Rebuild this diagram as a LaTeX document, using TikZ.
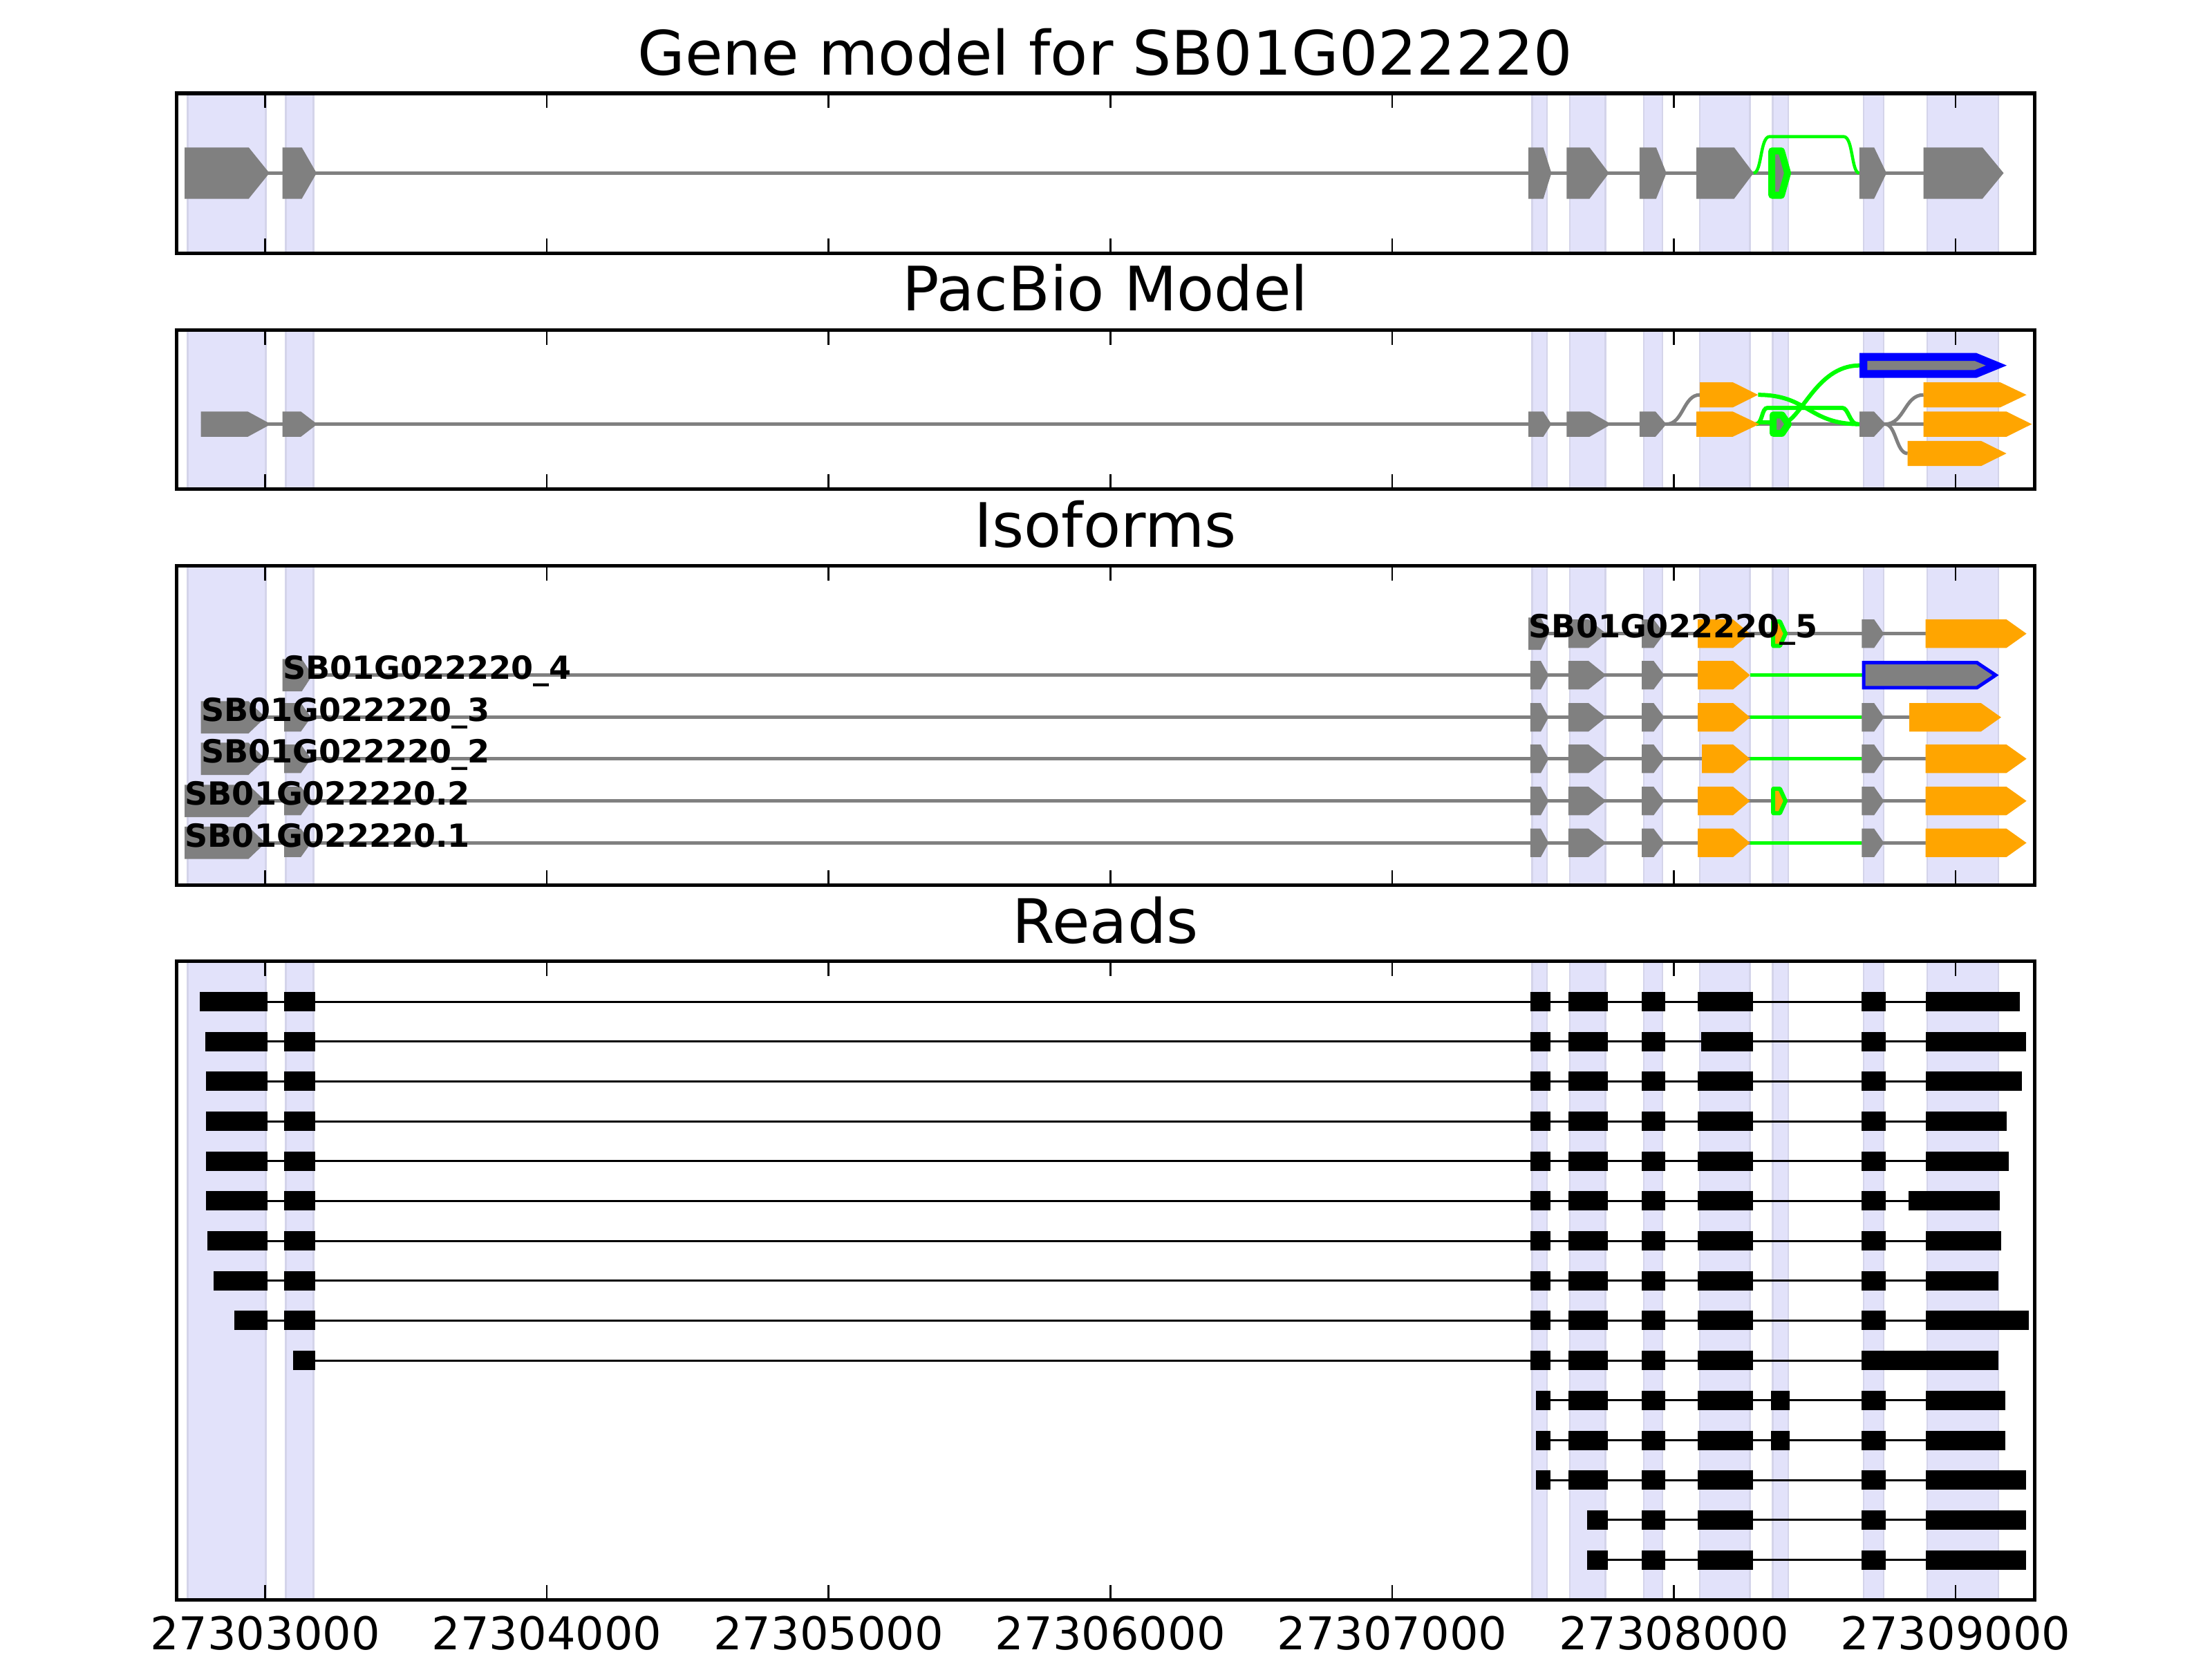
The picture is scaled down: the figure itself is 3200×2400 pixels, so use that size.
\documentclass[tikz,border=0pt]{standalone}
\usepackage{fontspec}
\setmainfont{DejaVu Sans}
\usepackage{xcolor}
\usepackage{tikz}

\definecolor{mplgray}{RGB}{128,128,128}
\definecolor{mplorange}{RGB}{255,165,0}
\definecolor{mplgreen}{RGB}{0,255,0}
\definecolor{mplblue}{RGB}{0,0,255}
\definecolor{spanfill}{RGB}{226,226,250}
\definecolor{spanedge}{RGB}{212,212,234}

\newcommand{\titlesize}{\fontsize{25.2}{30}\selectfont}
\newcommand{\ticksize}{\fontsize{18.6}{22}\selectfont}
\newcommand{\isosize}{\fontsize{13.1}{15}\selectfont\bfseries}
% exon arrow: start, end of box, tip, centre y, half height, style
\newcommand{\exon}[6]{\path[#6] ({#1},{#4-#5}) -- ({#2},{#4-#5}) -- ({#3},{#4}) -- ({#2},{#4+#5}) -- ({#1},{#4+#5}) -- cycle;}

\begin{document}
\begin{tikzpicture}[x=0.01cm, y=-0.01cm,
    exonspan/.style={fill=spanfill, draw=spanedge, line width=0.025cm},
    panelframe/.style={draw=black, line width=0.05cm},
    tickmark/.style={draw=black, line width=0.025cm},
    intron/.style={draw=mplgray, line width=0.045cm},
    novel/.style={draw=mplgreen, line width=0.055cm},
    gx/.style={fill=mplgray},
    ox/.style={fill=mplorange},
    readline/.style={draw=black, line width=0.03cm},
    readexon/.style={fill=black},
    paneltitle/.style={anchor=base, inner sep=0pt, font=\titlesize},
    ticklabel/.style={anchor=base, inner sep=0pt, font=\ticksize},
    isolabel/.style={anchor=base west, inner sep=0pt, font=\isosize}]

    \fill[white] (0,0) rectangle (3200,2400);

    % exon spans behind every panel
    \foreach \pt/\pb in {135/366, 477/707, 818.5/1280, 1390.5/2314}
      \foreach \a/\b in {271.4/384.5, 413.4/453.6, 2216.3/2237.8, 2270.9/2322.4, 2378/2405.1, 2459.2/2531.6, 2564.3/2587.2, 2695.9/2725, 2787.8/2890.8}
        \path[exonspan] (\a,\pt) rectangle (\b,\pb);

    % gene model
    \draw[intron] (267,250.4) -- (2782.7,250.4);
    \draw[novel, line width=0.045cm] (2536.7,250.4) .. controls (2549,250.4) and (2546,197.6) .. (2560,197.6) -- (2667,197.6) .. controls (2681,197.6) and (2678,250.4) .. (2689.8,250.4);
    \exon{267}{359.8}{389.7}{250.4}{37.1}{gx}
    \exon{408.5}{436.6}{458}{250.4}{37.1}{gx}
    \exon{2211.2}{2232.7}{2244.4}{250.4}{37.1}{gx}
    \exon{2266.3}{2299.5}{2327.6}{250.4}{37.1}{gx}
    \exon{2371.9}{2395.9}{2410.7}{250.4}{37.1}{gx}
    \exon{2454.1}{2508.7}{2536.7}{250.4}{37.1}{gx}
    \exon{2563.2}{2577}{2586}{250.4}{32.1}{gx, draw=mplgreen, line width=0.1cm, line join=round}
    \exon{2689.8}{2711.2}{2729.1}{250.4}{37.1}{gx}
    \exon{2782.7}{2867.9}{2898.5}{250.4}{37.1}{gx}

    % pacbio model
    \draw[intron, line width=0.05cm] (290.6,613.6) -- (2782.7,613.6);
    \draw[intron, line width=0.05cm] (2410.7,613.6) .. controls (2435,613.6) and (2435,571.2) .. (2459,571.2);
    \draw[intron, line width=0.05cm] (2727,613.6) .. controls (2755,613.6) and (2755,571.2) .. (2782.7,571.2);
    \draw[intron, line width=0.05cm] (2727,613.6) .. controls (2743,613.6) and (2743,656) .. (2759.7,656);
    \draw[novel, line width=0.06cm] (2543.3,571.2) .. controls (2616,571.2) and (2616,613.6) .. (2690,613.6);
    \draw[novel, line width=0.06cm] (2540,613.6) .. controls (2550,613.6) and (2548,590) .. (2557,590) -- (2665,590) .. controls (2674,590) and (2676,613.6) .. (2687,613.6);
    \draw[novel, line width=0.06cm] (2545,611) -- (2562,611);
    \draw[novel, line width=0.06cm] (2575,613.6) .. controls (2605,613.6) and (2625,528.7) .. (2690,528.7);
    \exon{290.6}{358.5}{392}{613.6}{18.2}{gx}
    \exon{408.5}{435.3}{459}{613.6}{18.2}{gx}
    \exon{2211.2}{2232.7}{2244.4}{613.6}{18.2}{gx}
    \exon{2266.3}{2299.5}{2331}{613.6}{18.2}{gx}
    \exon{2371.9}{2394.9}{2410.7}{613.6}{18.2}{gx}
    \exon{2459}{2506.7}{2543.3}{571.2}{18.2}{ox}
    \exon{2454}{2506.7}{2545}{613.6}{18.2}{ox}
    \exon{2565}{2578}{2587}{613.6}{13.2}{gx, draw=mplgreen, line width=0.1cm, line join=round}
    \exon{2690}{2711}{2728}{613.6}{18.2}{gx}
    \exon{2695.7}{2858}{2888}{528.7}{12.3}{gx, draw=mplblue, line width=0.114cm}
    \exon{2782.7}{2893.4}{2931.6}{571.2}{18.2}{ox}
    \exon{2782.7}{2902.6}{2939.3}{613.6}{18.2}{ox}
    \exon{2759.7}{2865.8}{2902.6}{656}{18.2}{ox}

    % isoforms
    \draw[intron] (2211,916.7) -- (2785.7,916.7);
    \draw[intron] (408.5,976.7) -- (2456,976.7);
    \draw[intron] (290.6,1037.7) -- (2762.2,1037.7);
    \draw[intron] (290.6,1097.7) -- (2785.7,1097.7);
    \draw[intron] (267,1158.7) -- (2785.7,1158.7);
    \draw[intron] (267,1219.3) -- (2785.7,1219.3);
    \foreach \y/\e in {976.7/2696, 1037.7/2693.4, 1097.7/2693.4, 1219.3/2693.4}
      \draw[novel] (2531.6,\y) -- (\e,\y);
    \exon{2211}{2229}{2240.3}{916.7}{23.4}{gx}
    \exon{408.5}{436.6}{452}{976.7}{23.4}{gx}
    \foreach \y in {1037.7,1097.7}
      {\exon{290.6}{359.4}{384}{\y}{23.4}{gx}}
    \foreach \y in {1158.7,1219.3}
      {\exon{267}{359.4}{384}{\y}{23.4}{gx}}
    \foreach \y in {1037.7,1097.7,1158.7,1219.3}
      {\exon{411.2}{435.3}{450}{\y}{20.6}{gx}}
    \foreach \y in {976.7,1037.7,1097.7,1158.7,1219.3}
      {\exon{2213.8}{2229}{2240.3}{\y}{20.6}{gx}}
    \foreach \y in {916.7,976.7,1037.7,1097.7,1158.7,1219.3}
      {\exon{2268.9}{2298}{2323.5}{\y}{20.6}{gx}
       \exon{2375}{2392.3}{2407.7}{\y}{20.6}{gx}}
    \foreach \y/\s in {916.7/2456.1, 976.7/2456.1, 1037.7/2456.1, 1097.7/2462.2, 1158.7/2456.1, 1219.3/2456.1}
      {\exon{\s}{2507.1}{2531.6}{\y}{20.6}{ox}}
    \foreach \y in {916.7,1158.7}
      {\exon{2565.2}{2575}{2583}{\y}{17.6}{ox, draw=mplgreen, line width=0.06cm, line join=round}}
    \foreach \y in {916.7,1037.7,1097.7,1158.7,1219.3}
      {\exon{2693.4}{2711.2}{2725.5}{\y}{20.6}{gx}}
    \foreach \y in {916.7,1097.7,1158.7,1219.3}
      {\exon{2785.7}{2902.6}{2931.6}{\y}{20.6}{ox}}
    \exon{2762.2}{2865.8}{2894.9}{1037.7}{20.6}{ox}
    \exon{2696}{2860}{2887}{976.7}{18.1}{gx, draw=mplblue, line width=0.05cm}

    \node[isolabel] (lab5) at (2211,922) {SB01G022220\_5};
    \node[isolabel] (lab4) at (408.5,982.5) {SB01G022220\_4};
    \node[isolabel] (lab3) at (290.6,1043.5) {SB01G022220\_3};
    \node[isolabel] (lab2) at (290.6,1103.5) {SB01G022220\_2};
    \node[isolabel] (labB) at (267,1164.5) {SB01G022220.2};
    \node[isolabel] (labA) at (267,1225) {SB01G022220.1};

    % reads: row / first start / last end / exons
    \foreach \k/\a/\b/\ex in {
      1/289.3/2922.4/{289.3/387.3, 411.3/455.7, 2213.8/2242.9, 2268.9/2326, 2375/2408.7, 2456.1/2536.2, 2693.4/2728.1, 2785.7/2922.4},
      2/297.3/2930.6/{297.3/387.3, 411.3/455.7, 2213.8/2242.9, 2268.9/2326, 2375/2408.7, 2461.2/2536.2, 2693.4/2728.1, 2785.7/2930.6},
      3/298.3/2924.5/{298.3/387.3, 411.3/455.7, 2213.8/2242.9, 2268.9/2326, 2375/2408.7, 2456.1/2536.2, 2693.4/2728.1, 2785.7/2924.5},
      4/298.3/2902.6/{298.3/387.3, 411.3/455.7, 2213.8/2242.9, 2268.9/2326, 2375/2408.7, 2456.1/2536.2, 2693.4/2728.1, 2785.7/2902.6},
      5/298.3/2905.6/{298.3/387.3, 411.3/455.7, 2213.8/2242.9, 2268.9/2326, 2375/2408.7, 2456.1/2536.2, 2693.4/2728.1, 2785.7/2905.6},
      6/298.3/2893.4/{298.3/387.3, 411.3/455.7, 2213.8/2242.9, 2268.9/2326, 2375/2408.7, 2456.1/2536.2, 2693.4/2728.1, 2761.2/2893.4},
      7/300.3/2894.9/{300.3/387.3, 411.3/455.7, 2213.8/2242.9, 2268.9/2326, 2375/2408.7, 2456.1/2536.2, 2693.4/2728.1, 2785.7/2894.9},
      8/309.3/2891.3/{309.3/387.3, 411.3/455.7, 2213.8/2242.9, 2268.9/2326, 2375/2408.7, 2456.1/2536.2, 2693.4/2728.1, 2785.7/2891.3},
      9/339.3/2934.7/{339.3/387.3, 411.3/455.7, 2213.8/2242.9, 2268.9/2326, 2375/2408.7, 2456.1/2536.2, 2693.4/2728.1, 2785.7/2934.7},
      10/424.3/2891.3/{424.3/455.7, 2213.8/2242.9, 2268.9/2326, 2375/2408.7, 2456.1/2536.2, 2693.4/2891.3},
      11/2222.4/2901/{2222.4/2242.9, 2268.9/2326, 2375/2408.7, 2456.1/2536.2, 2562.2/2588.8, 2693.4/2728.1, 2785.7/2901},
      12/2222.4/2901/{2222.4/2242.9, 2268.9/2326, 2375/2408.7, 2456.1/2536.2, 2562.2/2588.8, 2693.4/2728.1, 2785.7/2901},
      13/2222.4/2930.6/{2222.4/2242.9, 2268.9/2326, 2375/2408.7, 2456.1/2536.2, 2693.4/2728.1, 2785.7/2930.6},
      14/2296.4/2930.6/{2296.4/2326, 2375/2408.7, 2456.1/2536.2, 2693.4/2728.1, 2785.7/2930.6},
      15/2296.4/2930.6/{2296.4/2326, 2375/2408.7, 2456.1/2536.2, 2693.4/2728.1, 2785.7/2930.6}} {
      \pgfmathsetmacro\yr{1449+57.68*(\k-1)}
      \draw[readline] (\a,\yr) -- (\b,\yr);
      \foreach \p/\q in \ex
        \fill[readexon] ({\p},{\yr-14}) rectangle ({\q},{\yr+14});
    }

    % ticks and frames
    \foreach \pt/\pb in {135/366, 477/707, 818.5/1280, 1390.5/2314} {
      \foreach \t in {383.5,791.1,1198.7,1606.3,2013.9,2421.5,2829.1} {
        \draw[tickmark] (\t,\pt) -- ++(0,21.5);
        \draw[tickmark] (\t,\pb) -- ++(0,-21.5);
      }
      \draw[panelframe] (255,\pt) rectangle (2943,\pb);
    }
    \foreach \t/\lab in {383.5/27303000, 791.1/27304000, 1198.7/27305000, 1606.3/27306000, 2013.9/27307000, 2421.5/27308000, 2829.1/27309000}
      \node[ticklabel] (tick\lab) at (\t,2386.7) {\lab};

    \node[paneltitle] (ttlgene) at (1599,108.3) {Gene model for SB01G022220};
    \node[paneltitle] (ttlpacbio) at (1599,449.5) {PacBio Model};
    \node[paneltitle] (ttliso) at (1599,791.5) {Isoforms};
    \node[paneltitle] (ttlreads) at (1599,1364.5) {Reads};
\end{tikzpicture}
\end{document}
